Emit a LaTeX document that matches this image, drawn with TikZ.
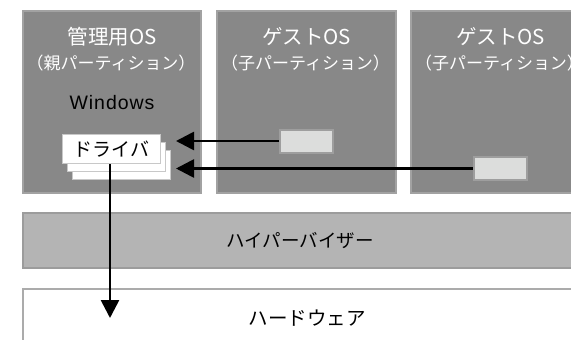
\documentclass[tikz,border=0pt]{standalone}
\usepackage{fontspec}
\setmainfont{Noto Sans CJK JP}
\newfontfamily\latinfont{Liberation Sans}[LetterSpace=5]
\usetikzlibrary{arrows.meta,calc}
\definecolor{osfill}{HTML}{888888}
\definecolor{osedge}{HTML}{A2A2A2}
\definecolor{hvfill}{HTML}{B4B4B4}
\definecolor{hvedge}{HTML}{9C9C9C}
\definecolor{hwedge}{HTML}{ABABAB}
\definecolor{smfill}{HTML}{DCDDDC}
\definecolor{smedge}{HTML}{9E9E9E}
\definecolor{drvedge}{HTML}{C8C8C8}
\tikzset{
  osbox/.style={draw=osedge, fill=osfill, line width=2pt, minimum width=178pt, minimum height=182pt, inner sep=0pt},
  title/.style={text=white, font=\fontsize{20.5}{20}\selectfont, inner sep=0pt},
  subtitle/.style={text=white, font=\fontsize{17}{17}\selectfont, inner sep=0pt},
  blacktext/.style={text=black, font=\fontsize{18}{18}\selectfont, inner sep=0pt},
  smbox/.style={draw=smedge, fill=smfill, line width=2pt, minimum width=53pt, minimum height=23pt, inner sep=0pt},
  sheet/.style={draw=drvedge, fill=white, line width=1.5pt, minimum width=98pt, minimum height=29pt, inner sep=0pt},
  arr/.style={line width=2.7pt, -{Triangle[length=18pt,width=18pt]}},
}
\begin{document}
\begin{tikzpicture}[x=1pt,y=-1pt]
\useasboundingbox (0,0) rectangle (571,340);
\clip (0,0) rectangle (571,340);
% partitions
\node[osbox] (host) at (112,102) {};
\node[osbox, minimum width=179pt] (guestA) at (306.5,102) {};
\node[osbox, minimum width=179pt] (guestB) at (500.5,102) {};
\node[title] (hostT) at (112,37) {管理用OS};
\node[subtitle] (hostS) at (111,63) {（親パーティション）};
\node[blacktext, font=\latinfont\fontsize{19.5}{18}\selectfont] (win) at (112,103) {Windows};
\node[title] (gAT) at (306.5,37) {ゲストOS};
\node[subtitle] (gAS) at (305.5,63) {（子パーティション）};
\node[title] (gBT) at (500.5,37) {ゲストOS};
\node[subtitle] (gBS) at (499.5,63) {（子パーティション）};
% hypervisor and hardware
\node[draw=hvedge, fill=hvfill, line width=2pt, minimum width=558pt, minimum height=55pt, inner sep=0pt] (hv) at (302,240.5) {};
\node[blacktext, font=\fontsize{18.5}{18}\selectfont] (hvT) at (300,241) {ハイパーバイザー};
\node[draw=hwedge, fill=white, line width=2pt, minimum width=568pt, minimum height=58pt, inner sep=0pt] (hw) at (307,318) {};
\node[blacktext, font=\fontsize{19.5}{18}\selectfont] (hwT) at (307,318) {ハードウェア};
% guest components
\node[smbox] (c1) at (306.5,141) {};
\node[smbox] (c2) at (500,168.5) {};
% driver stack
\node[sheet] (drv3) at (121.5,165) {};
\node[sheet] (drv2) at (116.5,157) {};
\node[sheet] (drv) at (111.5,149) {};
\node[blacktext, font=\fontsize{19}{18}\selectfont] (drvT) at (drv) {ドライバ};
% connectors
\coordinate (tip1) at (176,141);
\coordinate (tip2) at (176,168.5);
\coordinate (tip3) at (110,318);
\draw[arr] (c1.west) -- (tip1);
\draw[arr] (c2.west) -- (tip2);
\draw[arr] (drv.south -| tip3) -- (tip3);
\end{tikzpicture}
\end{document}
